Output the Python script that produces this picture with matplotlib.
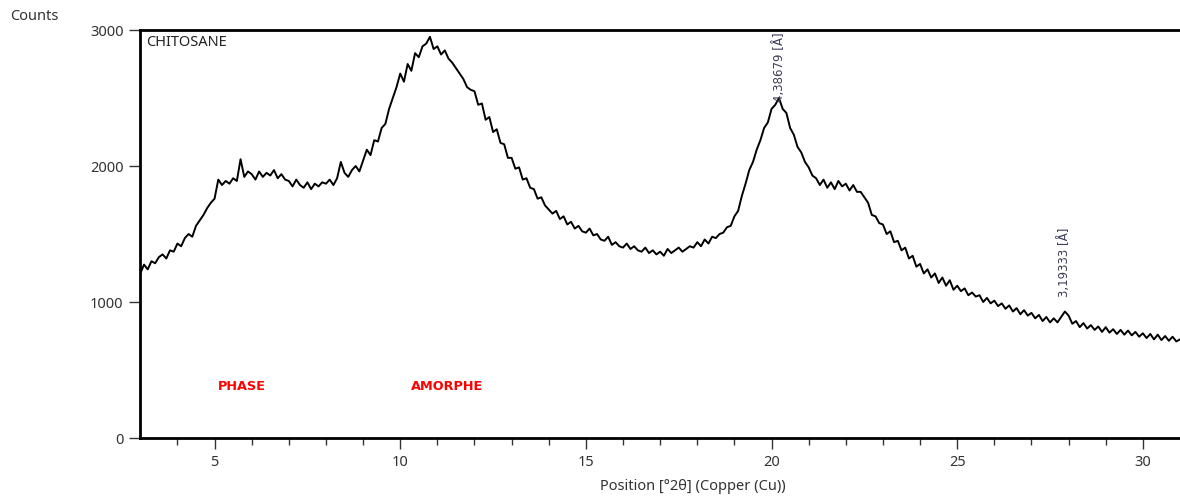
import numpy as np
import matplotlib
matplotlib.use('Agg')
import matplotlib.pyplot as plt

plt.rcParams['font.family'] = ['Noto Sans', 'DejaVu Sans']

# XRD scan, every 0.1 deg (2theta from 3.0 to 31.0)
counts = [
    1210, 1275, 1240, 1300, 1285, 1330, 1350, 1320, 1380, 1370,   # 3.x
    1430, 1410, 1470, 1500, 1480, 1560, 1600, 1640, 1690, 1730,   # 4.x
    1760, 1900, 1860, 1890, 1870, 1910, 1890, 2050, 1920, 1960,   # 5.x
    1940, 1900, 1960, 1920, 1950, 1930, 1970, 1910, 1940, 1900,   # 6.x
    1890, 1850, 1900, 1860, 1840, 1880, 1830, 1870, 1850, 1880,   # 7.x
    1870, 1900, 1860, 1910, 2030, 1950, 1920, 1970, 2000, 1960,   # 8.x
    2040, 2120, 2080, 2190, 2180, 2280, 2310, 2420, 2500, 2580,   # 9.x
    2680, 2620, 2750, 2700, 2830, 2800, 2880, 2900, 2950, 2860,   # 10.x
    2880, 2820, 2850, 2790, 2760, 2720, 2680, 2640, 2580, 2560,   # 11.x
    2550, 2450, 2460, 2340, 2360, 2250, 2270, 2170, 2160, 2060,   # 12.x
    2060, 1980, 1990, 1900, 1910, 1840, 1830, 1760, 1770, 1710,   # 13.x
    1680, 1650, 1670, 1610, 1630, 1570, 1590, 1540, 1560, 1520,   # 14.x
    1510, 1540, 1490, 1500, 1460, 1450, 1480, 1420, 1440, 1410,   # 15.x
    1400, 1430, 1390, 1410, 1380, 1370, 1400, 1360, 1380, 1350,   # 16.x
    1370, 1340, 1390, 1360, 1380, 1400, 1370, 1390, 1410, 1400,   # 17.x
    1440, 1410, 1460, 1430, 1480, 1470, 1500, 1510, 1550, 1560,   # 18.x
    1630, 1670, 1780, 1870, 1970, 2030, 2120, 2190, 2280, 2320,   # 19.x
    2420, 2450, 2500, 2420, 2390, 2280, 2230, 2140, 2100, 2030,   # 20.x
    1990, 1930, 1910, 1860, 1900, 1840, 1880, 1830, 1890, 1850,   # 21.x
    1870, 1820, 1860, 1810, 1810, 1770, 1730, 1640, 1630, 1580,   # 22.x
    1570, 1500, 1520, 1440, 1450, 1380, 1400, 1320, 1340, 1260,   # 23.x
    1280, 1210, 1240, 1180, 1210, 1140, 1180, 1120, 1160, 1090,   # 24.x
    1120, 1080, 1100, 1050, 1070, 1040, 1050, 1000, 1030, 990,    # 25.x
    1010, 970, 990, 950, 975, 930, 955, 910, 940, 900,            # 26.x
    920, 880, 905, 860, 890, 850, 880, 850, 890, 930,             # 27.x
    900, 840, 860, 815, 845, 805, 830, 795, 820, 780,             # 28.x
    815, 775, 800, 765, 795, 760, 790, 755, 780, 745,             # 29.x
    770, 735, 765, 725, 760, 720, 750, 715, 745, 710,             # 30.x
    725,                                                          # 31.0
]
two_theta = np.round(np.arange(len(counts)) * 0.1 + 3.0, 1)

peak_pos = [20.22, 27.9]
peak_lab = ['4,38679 [Å]', '3,19333 [Å]']
peak_txt_y = [2470, 1040]

x_ticks = [5, 10, 15, 20, 25, 30]
y_ticks = [0, 1000, 2000, 3000]

fig = plt.figure(figsize=(11.8, 4.97), dpi=100)
ax = fig.add_axes([0.1189, 0.1187, 0.8811, 0.8209])

ax.plot(two_theta, counts, color='black', lw=1.4)

ax.set_xlim(3, 31)
ax.set_ylim(0, 3000)
ax.set_xticks(x_ticks)
ax.set_xticks(np.arange(4, 31, 1), minor=True)
ax.set_yticks(y_ticks)
ax.tick_params(axis='both', which='major', length=8, width=1, labelsize=10.5,
               colors='#333333', direction='out', pad=4)
ax.tick_params(axis='x', which='minor', length=5, width=1, color='#333333')

for s in ['left', 'top', 'bottom']:
    ax.spines[s].set_linewidth(2)
    ax.spines[s].set_color('black')
ax.spines['right'].set_visible(False)

ax.text(3.15, 2965, 'CHITOSANE', fontsize=10.5, color='#222222', va='top')

for p, lab, ty in zip(peak_pos, peak_lab, peak_txt_y):
    ax.text(p, ty, lab, rotation=90, fontsize=8.5, color='#3c3c5a',
            ha='center', va='bottom', family=['DejaVu Sans'])

ax.text(5.1, 380, 'PHASE', color='red', fontsize=9.3, fontweight='bold',
        va='center', family=['DejaVu Sans'])
ax.text(10.3, 380, 'AMORPHE', color='red', fontsize=9.3, fontweight='bold',
        va='center', family=['DejaVu Sans'])

fig.text(10 / 1180, 1 - 17 / 497, 'Counts', fontsize=10.5, color='#333333',
         va='center')
fig.text(693 / 1180, 1 - 487 / 497, 'Position [°2θ] (Copper (Cu))',
         fontsize=10.5, color='#333333', ha='center', va='center')

fig.savefig('out.png', dpi=100)
